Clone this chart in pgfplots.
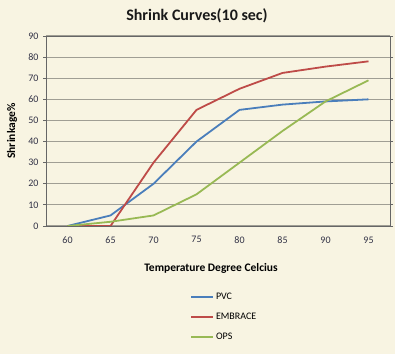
\documentclass[border=0pt]{standalone}
\usepackage{pgfplots}
\pgfplotsset{compat=1.18}
\usepackage{fontspec}
\setmainfont{Carlito}
\definecolor{bg}{RGB}{248,244,226}
\definecolor{pvc}{RGB}{74,126,187}
\definecolor{emb}{RGB}{190,75,72}
\definecolor{ops}{RGB}{152,185,84}
\definecolor{tick}{RGB}{50,50,70}
\definecolor{gridc}{RGB}{160,158,148}
\begin{document}
\begin{tikzpicture}
\fill[bg] (0,0) rectangle (395bp,354bp);
\useasboundingbox (0,0) rectangle (395bp,354bp);
\node[font=\fontsize{16bp}{18bp}\selectfont\bfseries, text=black!90] at (197bp,338bp) {Shrink Curves(10 sec)};
\node[font=\fontsize{11.5bp}{13bp}\selectfont\bfseries] at (211bp,86bp) {Temperature Degree Celcius};
\node[font=\fontsize{11.5bp}{13bp}\selectfont\bfseries, rotate=90] at (12bp,223bp) {Shrinkage\%};
\begin{axis}[
  at={(46bp,128bp)}, anchor=south west,
  scale only axis, width=344bp, height=190bp,
  xmin=57.5, xmax=97.5, ymin=0, ymax=90,
  xtick={60,65,...,95}, ytick={0,10,...,90},
  ymajorgrids, major grid style={gridc, line width=1.1pt},
  axis line style={black!60, line width=0.9pt},
  xtick style={draw=none},
  ytick style={black!60, line width=0.8pt}, tickwidth=3bp, tick align=outside,
  tick label style={font=\fontsize{10bp}{12bp}\selectfont, text=tick},
  /pgf/number format/assume math mode=true,
  xticklabel style={yshift=-4bp},
  yticklabel style={xshift=-1bp},
  axis background/.style={fill=bg},
  legend style={at={(0.41,-0.33)}, anchor=north west, draw=none, fill=none,
    font=\fontsize{10bp}{12bp}\selectfont, row sep=8bp, cells={anchor=west}},
  legend image code/.code={\draw[#1, line width=1.8pt] (0bp,0bp) -- (22bp,0bp);},
  every axis plot/.append style={line width=1.8pt, mark=none},
]
\addplot[pvc] coordinates {(60,0) (65,5) (70,20) (75,40) (80,55) (85,57.5) (90,59) (95,60)};
\addlegendentry{PVC}
\addplot[emb] coordinates {(60,0) (65,0) (70,30) (75,55) (80,65) (85,72.5) (90,75.5) (95,78)};
\addlegendentry{EMBRACE}
\addplot[ops] coordinates {(60,0) (65,2) (70,5) (75,15) (80,30) (85,45) (90,59) (95,69)};
\addlegendentry{OPS}
\end{axis}
\end{tikzpicture}
\end{document}
